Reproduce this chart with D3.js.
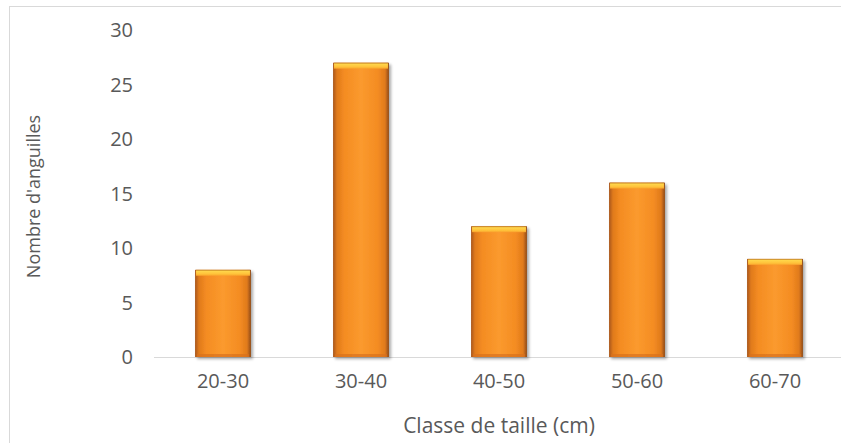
<!DOCTYPE html>
<html>
<head>
<meta charset="utf-8">
<script src="https://cdn.jsdelivr.net/npm/d3@7"></script>
<style>
  html, body { margin: 0; padding: 0; background: #fff; }
  svg { display: block; }
  text { font-family: "Open Sans", "Noto Sans", sans-serif; fill: #595959; }
</style>
</head>
<body>
<svg id="chart" width="841" height="443"></svg>
<script>
// Size classes (cm) and number of eels counted in each
const categories = ["20-30", "30-40", "40-50", "50-60", "60-70"];
const counts = [8, 27, 12, 16, 9];
const yTicks = [0, 5, 10, 15, 20, 25, 30];
const xTitle = "Classe de taille (cm)";
const yTitle = "Nombre d'anguilles";

const svg = d3.select("#chart");
const W = 841, H = 443;
const margin = { left: 154, right: -3, top: 30, bottom: 86 };

// Outer frame
svg.append("rect")
  .attr("x", 9.5).attr("y", 6.5)
  .attr("width", 840).attr("height", 450)
  .attr("fill", "none").attr("stroke", "#d9d9d9").attr("stroke-width", 1);

const x = d3.scaleBand()
  .domain(categories)
  .range([margin.left, W - margin.right])
  .paddingInner(0.595).paddingOuter(0.2975);

const y = d3.scaleLinear()
  .domain([0, 30])
  .range([H - margin.bottom, margin.top]);

// Gradients for the bevelled bars
const defs = svg.append("defs");
const side = defs.append("linearGradient").attr("id", "barSide")
  .attr("x1", "0").attr("x2", "1").attr("y1", "0").attr("y2", "0");
[[0, "#a8571a"], [0.07, "#e07a1c"], [0.2, "#f48c22"], [0.5, "#fb9a2e"], [0.8, "#f48c22"], [0.93, "#e07a1c"], [1, "#8f4a18"]]
  .forEach(([o, c]) => side.append("stop").attr("offset", o).attr("stop-color", c));
const cap = defs.append("linearGradient").attr("id", "barCap")
  .attr("x1", "0").attr("x2", "0").attr("y1", "0").attr("y2", "1");
[[0, "#b8731f"], [0.25, "#ffd54a"], [0.7, "#ffc23a"], [1, "#f9a22c"]]
  .forEach(([o, c]) => cap.append("stop").attr("offset", o).attr("stop-color", c));
const shadow = defs.append("filter").attr("id", "barShadow")
  .attr("x", "-20%").attr("y", "-10%").attr("width", "150%").attr("height", "130%");
shadow.append("feGaussianBlur").attr("in", "SourceAlpha").attr("stdDeviation", 1.6).attr("result", "b");
shadow.append("feOffset").attr("in", "b").attr("dx", 2).attr("dy", 2).attr("result", "o");
shadow.append("feComponentTransfer").attr("in", "o").attr("result", "s")
  .append("feFuncA").attr("type", "linear").attr("slope", 0.35);
const merge = shadow.append("feMerge");
merge.append("feMergeNode").attr("in", "s");
merge.append("feMergeNode").attr("in", "SourceGraphic");

// Category axis line
svg.append("line")
  .attr("x1", margin.left).attr("x2", W - margin.right)
  .attr("y1", y(0) + 0.5).attr("y2", y(0) + 0.5)
  .attr("stroke", "#d9d9d9").attr("stroke-width", 1);

// Bars
const bars = svg.append("g").selectAll("g.bar")
  .data(categories.map((c, i) => ({ c, v: counts[i] })))
  .join("g").attr("class", "bar").attr("filter", "url(#barShadow)");

bars.append("rect")
  .attr("x", d => x(d.c)).attr("width", x.bandwidth())
  .attr("y", d => y(d.v)).attr("height", d => y(0) - y(d.v))
  .attr("fill", "url(#barSide)");
bars.append("rect")
  .attr("x", d => x(d.c) + 1).attr("width", x.bandwidth() - 2)
  .attr("y", d => y(d.v)).attr("height", 6)
  .attr("fill", "url(#barCap)");
bars.append("rect")
  .attr("x", d => x(d.c) + 2).attr("width", x.bandwidth() - 4)
  .attr("y", d => y(0) - 3).attr("height", 3)
  .attr("fill", "#d9711c").attr("opacity", 0.7);

// Value axis labels
svg.append("g").selectAll("text")
  .data(yTicks).join("text")
  .attr("x", 133).attr("y", d => y(d))
  .attr("dy", "0.36em").attr("text-anchor", "end")
  .attr("font-size", 20).text(d => d);

// Category labels
svg.append("g").selectAll("text")
  .data(categories).join("text")
  .attr("x", d => x(d) + x.bandwidth() / 2).attr("y", y(0) + 31)
  .attr("text-anchor", "middle").attr("font-size", 20).text(d => d);

// Axis titles
svg.append("text")
  .attr("x", (x.range()[0] + x.range()[1]) / 2).attr("y", 433)
  .attr("text-anchor", "middle").attr("font-size", 21).text(xTitle);
svg.append("text")
  .attr("transform", `translate(40, ${(y(0) + y(30)) / 2 + 3}) rotate(-90)`)
  .attr("text-anchor", "middle").attr("font-size", 18).text(yTitle);
</script>
</body>
</html>
